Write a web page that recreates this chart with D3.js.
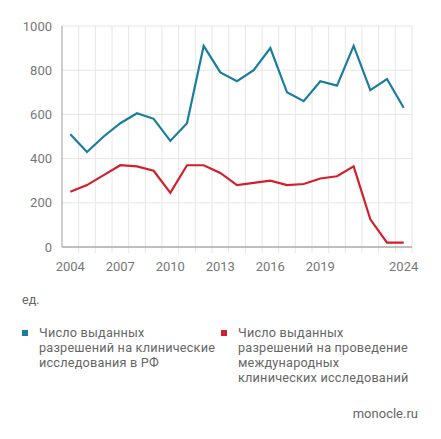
<!DOCTYPE html>
<html>
<head>
<meta charset="utf-8">
<script src="https://cdn.jsdelivr.net/npm/d3@7"></script>
<style>
  body { margin: 0; background: #fff; }
  text { font-family: Roboto, sans-serif; }
</style>
</head>
<body>
<div id="chart"></div>
<script>
const years = d3.range(2004, 2025);
const rfTrials = [510, 430, 500, 560, 605, 580, 480, 560, 910, 790, 750, 800, 900, 700, 660, 750, 730, 910, 710, 760, 630];
const intlTrials = [250, 280, 325, 370, 365, 345, 245, 370, 370, 335, 280, 290, 300, 280, 285, 310, 320, 365, 125, 20, 20];
const xTicks = [2004, 2007, 2010, 2013, 2016, 2019, 2024];
const yTicks = [0, 200, 400, 600, 800, 1000];
const legendLabels = [
  ['Число выданных', 'разрешений на клинические', 'исследования в РФ'],
  ['Число выданных', 'разрешений на проведение', 'международных', 'клинических исследований']
];
const colors = ['#1b7d9e', '#d21f2b'];

const width = 441;
const height = 439;
const margin = { top: 26, right: 29, bottom: 192, left: 62 };

const svg = d3.select('#chart')
  .append('svg')
  .attr('width', width)
  .attr('height', height);

const x = d3.scaleBand()
  .domain(years)
  .range([margin.left, width - margin.right]);

const y = d3.scaleLinear()
  .domain([0, 1000])
  .range([height - margin.bottom, margin.top]);

// grid
svg.append('g')
  .selectAll('line')
  .data(yTicks.slice(1))
  .join('line')
  .attr('x1', margin.left)
  .attr('x2', width - margin.right)
  .attr('y1', d => y(d))
  .attr('y2', d => y(d))
  .attr('stroke', '#e6e6e6');

svg.append('g')
  .selectAll('line')
  .data(years)
  .join('line')
  .attr('x1', d => x(d) + x.bandwidth())
  .attr('x2', d => x(d) + x.bandwidth())
  .attr('y1', margin.top)
  .attr('y2', y(0) + 6)
  .attr('stroke', '#e6e6e6');

// axes
svg.append('line')
  .attr('x1', margin.left).attr('x2', margin.left)
  .attr('y1', margin.top).attr('y2', y(0))
  .attr('stroke', '#b3b3b3').attr('stroke-width', 1.3);
svg.append('line')
  .attr('x1', margin.left).attr('x2', width - margin.right)
  .attr('y1', y(0)).attr('y2', y(0))
  .attr('stroke', '#a8a8a8').attr('stroke-width', 1.3);

svg.append('g')
  .selectAll('text')
  .data(yTicks)
  .join('text')
  .attr('x', margin.left - 10)
  .attr('y', d => y(d))
  .attr('dy', '0.35em')
  .attr('text-anchor', 'end')
  .attr('font-size', 13)
  .attr('fill', '#777')
  .text(d => d);

svg.append('g')
  .selectAll('text')
  .data(xTicks)
  .join('text')
  .attr('x', d => x(d) + x.bandwidth() / 2)
  .attr('y', y(0) + 19)
  .attr('dy', '0.35em')
  .attr('text-anchor', 'middle')
  .attr('font-size', 13)
  .attr('fill', '#777')
  .text(d => d);

// lines
const line = d3.line()
  .x((d, i) => x(years[i]) + x.bandwidth() / 2)
  .y(d => y(d));

[rfTrials, intlTrials].forEach((series, i) => {
  svg.append('path')
    .datum(series)
    .attr('fill', 'none')
    .attr('stroke', colors[i])
    .attr('stroke-width', 2.2)
    .attr('d', line);
});

// unit
svg.append('text')
  .attr('x', 22).attr('y', 300).attr('dy', '0.35em')
  .attr('font-size', 12.5).attr('fill', '#666')
  .text('ед.');

// legend, each entry as one multi-line text
const legendX = [22, 221];
legendLabels.forEach((lines, i) => {
  const g = svg.append('g').attr('transform', `translate(${legendX[i]},333)`);
  g.append('rect')
    .attr('x', 0).attr('y', -3)
    .attr('width', 6).attr('height', 6)
    .attr('fill', colors[i]);
  g.append('text')
    .attr('font-size', 12.7)
    .attr('letter-spacing', 0.2)
    .attr('fill', '#666')
    .selectAll('tspan')
    .data(lines)
    .join('tspan')
    .attr('x', 17)
    .attr('y', (d, j) => j * 15)
    .attr('dy', '0.35em')
    .text(d => d);
});

svg.append('text')
  .attr('x', 418).attr('y', 413).attr('dy', '0.35em')
  .attr('text-anchor', 'end')
  .attr('font-size', 13).attr('fill', '#666')
  .text('monocle.ru');
</script>
</body>
</html>
